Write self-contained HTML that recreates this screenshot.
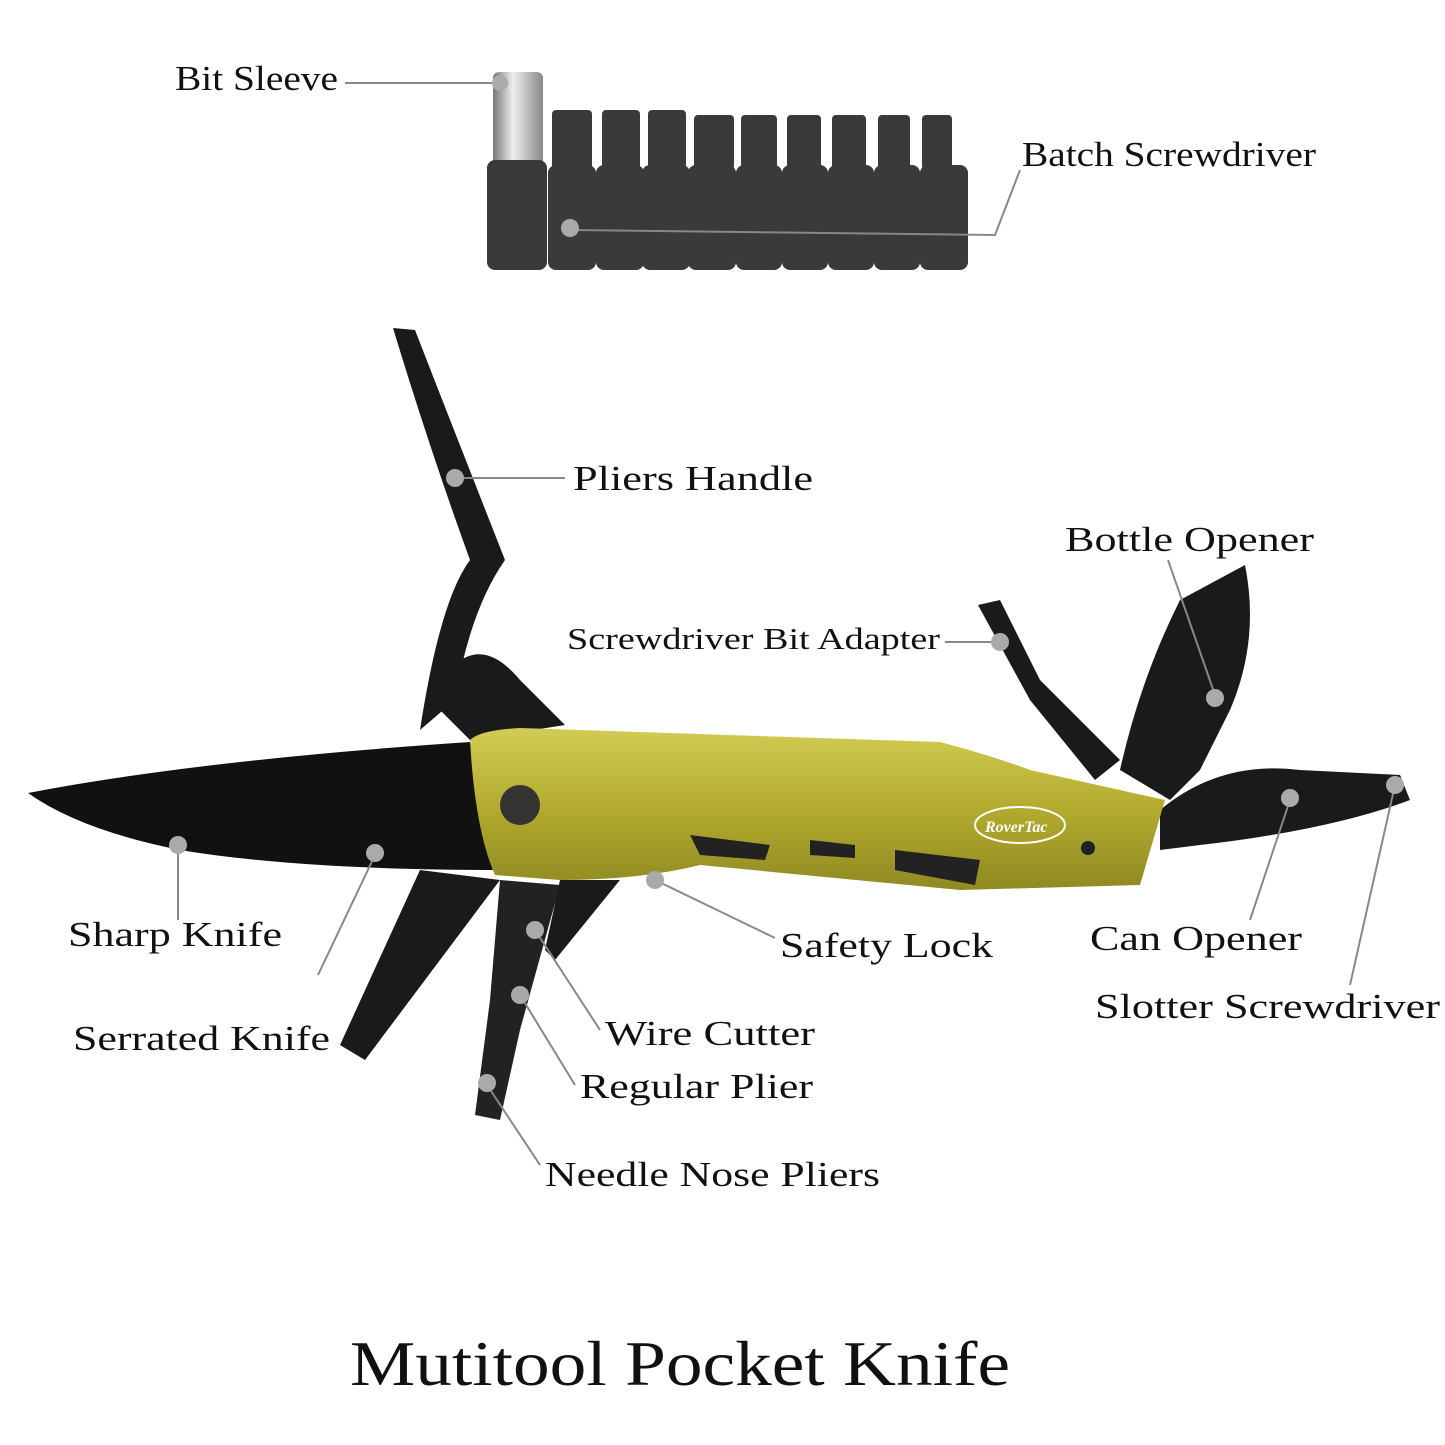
<!DOCTYPE html>
<html><head><meta charset="utf-8"><style>
body{margin:0;background:#fff;}
svg{display:block}
text{font-family:"Liberation Serif",serif;fill:#111;}
</style></head><body>
<svg width="1445" height="1445" viewBox="0 0 1445 1445" xmlns="http://www.w3.org/2000/svg">
<defs>
<linearGradient id="g1" x1="0" y1="0" x2="0" y2="1"><stop offset="0" stop-color="#d2cc55"/><stop offset="0.5" stop-color="#b3ab2e"/><stop offset="1" stop-color="#8f8a22"/></linearGradient>
<linearGradient id="sl" x1="0" y1="0" x2="1" y2="0"><stop offset="0" stop-color="#777"/><stop offset="0.4" stop-color="#eee"/><stop offset="1" stop-color="#888"/></linearGradient>
</defs>
<rect x="493" y="72" width="50" height="100" rx="6" fill="url(#sl)"/>
<g fill="#3a3a3a">
<rect x="487" y="160" width="60" height="110" rx="8"/>
<rect x="552" y="110" width="40" height="60" rx="4"/><rect x="548" y="165" width="48" height="105" rx="8"/>
<rect x="602" y="110" width="38" height="60" rx="4"/><rect x="596" y="165" width="48" height="105" rx="8"/>
<rect x="648" y="110" width="38" height="60" rx="4"/><rect x="642" y="165" width="48" height="105" rx="8"/>
<rect x="694" y="115" width="40" height="55" rx="4"/><rect x="688" y="165" width="48" height="105" rx="8"/>
<rect x="741" y="115" width="36" height="55" rx="4"/><rect x="736" y="165" width="46" height="105" rx="8"/>
<rect x="787" y="115" width="34" height="55" rx="4"/><rect x="782" y="165" width="46" height="105" rx="8"/>
<rect x="832" y="115" width="34" height="55" rx="4"/><rect x="828" y="165" width="46" height="105" rx="8"/>
<rect x="878" y="115" width="32" height="55" rx="4"/><rect x="874" y="165" width="46" height="105" rx="8"/>
<rect x="922" y="115" width="30" height="55" rx="4"/><rect x="920" y="165" width="48" height="105" rx="8"/>
</g>
<path d="M393 328 L415 330 Q450 420 505 560 Q470 610 455 700 L420 730 Q440 600 470 560 Q430 450 393 328Z" fill="#1a1a1a"/>
<path d="M430 700 Q470 620 520 680 L565 725 L470 740Z" fill="#1a1a1a"/>
<path d="M28 793 Q200 760 470 742 L500 870 Q300 870 180 850 Q80 830 28 793Z" fill="#111"/>
<path d="M420 870 L500 880 L365 1060 L340 1045Z" fill="#1a1a1a"/>
<path d="M500 880 L560 885 L520 1030 L500 1120 L475 1115 L490 1000Z" fill="#222"/>
<path d="M560 880 L620 880 L555 960 L545 950Z" fill="#1a1a1a"/>
<path d="M978 605 L1000 600 L1040 680 L1120 760 L1095 780 L1030 700Z" fill="#1a1a1a"/>
<path d="M1120 770 Q1140 680 1180 600 L1245 565 Q1260 640 1230 710 L1200 770 L1170 800Z" fill="#1a1a1a"/>
<path d="M1160 810 Q1220 760 1300 770 L1400 775 L1410 800 Q1330 830 1200 845 L1160 850Z" fill="#1a1a1a"/>
<path d="M470 740 Q480 730 520 728 L940 742 Q990 755 1030 770 L1165 800 L1140 885 L960 890 L700 865 Q640 880 560 880 L495 875 Q475 830 470 740Z" fill="url(#g1)"/>
<path d="M690 835 L770 845 L765 860 L700 855Z M810 840 L855 845 L855 858 L810 855Z M895 850 L980 860 L975 885 L895 870Z" fill="#222"/>
<circle cx="520" cy="805" r="20" fill="#333"/>
<ellipse cx="1020" cy="825" rx="45" ry="18" fill="none" stroke="#fff" stroke-width="2"/>
<text x="985" y="832" font-size="16" font-style="italic" font-weight="bold" style="fill:#fff">RoverTac</text>
<circle cx="1088" cy="848" r="7" fill="#222"/>
<g stroke="#888" stroke-width="2" fill="none">
<line x1="345" y1="83" x2="495" y2="83"/>
<path d="M1020 170 L995 235 L570 230"/>
<line x1="455" y1="478" x2="565" y2="478"/>
<path d="M1168 560 L1215 695"/>
<line x1="945" y1="642" x2="1000" y2="642"/>
<path d="M178 845 L178 920"/>
<path d="M375 855 L318 975"/>
<path d="M655 880 L775 938"/>
<path d="M1290 800 L1250 920"/>
<path d="M1395 785 L1350 985"/>
<path d="M535 930 L600 1030"/>
<path d="M520 995 L575 1085"/>
<path d="M487 1085 L540 1165"/>
</g>
<g fill="#aaa">
<circle cx="500" cy="83" r="8"/><circle cx="570" cy="228" r="9"/><circle cx="455" cy="478" r="9"/>
<circle cx="1215" cy="698" r="9"/><circle cx="1000" cy="642" r="9"/><circle cx="178" cy="845" r="9"/>
<circle cx="375" cy="853" r="9"/><circle cx="655" cy="880" r="9"/><circle cx="1290" cy="798" r="9"/>
<circle cx="1395" cy="785" r="9"/><circle cx="535" cy="930" r="9"/><circle cx="520" cy="995" r="9"/><circle cx="487" cy="1083" r="9"/>
</g>
<g font-size="35">
<text x="175" y="90" textLength="163" lengthAdjust="spacingAndGlyphs">Bit Sleeve</text>
<text x="1022" y="166" textLength="294" lengthAdjust="spacingAndGlyphs">Batch Screwdriver</text>
<text x="573" y="490" textLength="240" lengthAdjust="spacingAndGlyphs">Pliers Handle</text>
<text x="1065" y="551" textLength="249" lengthAdjust="spacingAndGlyphs">Bottle Opener</text>
<text x="567" y="649" font-size="31" textLength="373" lengthAdjust="spacingAndGlyphs">Screwdriver Bit Adapter</text>
<text x="68" y="946" textLength="214" lengthAdjust="spacingAndGlyphs">Sharp Knife</text>
<text x="780" y="957" textLength="213" lengthAdjust="spacingAndGlyphs">Safety Lock</text>
<text x="1090" y="950" textLength="212" lengthAdjust="spacingAndGlyphs">Can Opener</text>
<text x="1095" y="1018" textLength="345" lengthAdjust="spacingAndGlyphs">Slotter Screwdriver</text>
<text x="73" y="1050" textLength="257" lengthAdjust="spacingAndGlyphs">Serrated Knife</text>
<text x="605" y="1045" textLength="210" lengthAdjust="spacingAndGlyphs">Wire Cutter</text>
<text x="580" y="1098" textLength="233" lengthAdjust="spacingAndGlyphs">Regular Plier</text>
<text x="545" y="1186" textLength="335" lengthAdjust="spacingAndGlyphs">Needle Nose Pliers</text>
</g>
<text x="350" y="1385" font-size="64" textLength="660" lengthAdjust="spacingAndGlyphs">Mutitool Pocket Knife</text>
</svg>
</body></html>
